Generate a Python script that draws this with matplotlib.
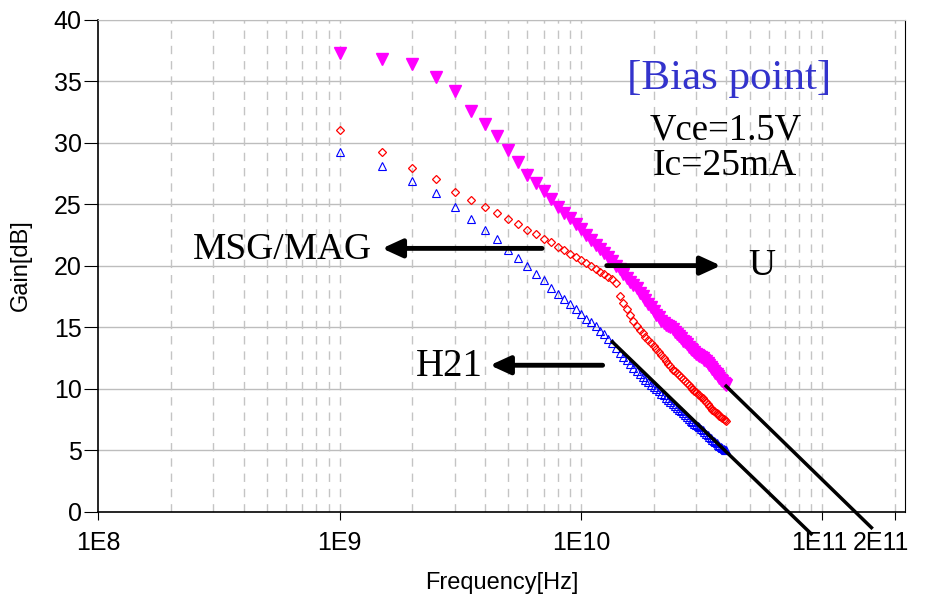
import matplotlib
matplotlib.use("Agg")
import matplotlib.pyplot as plt
import matplotlib.transforms as mtransforms
import numpy as np

# frequency points in GHz (0.5 GHz step, 1 .. 40 GHz)
freq_ghz = [1.0, 1.5, 2.0, 2.5, 3.0, 3.5, 4.0, 4.5, 5.0, 5.5, 6.0, 6.5, 7.0, 7.5,
            8.0, 8.5, 9.0, 9.5, 10.0, 10.5, 11.0, 11.5, 12.0, 12.5, 13.0, 13.5,
            14.0, 14.5, 15.0, 15.5, 16.0, 16.5, 17.0, 17.5, 18.0, 18.5, 19.0,
            19.5, 20.0, 20.5, 21.0, 21.5, 22.0, 22.5, 23.0, 23.5, 24.0, 24.5,
            25.0, 25.5, 26.0, 26.5, 27.0, 27.5, 28.0, 28.5, 29.0, 29.5, 30.0,
            30.5, 31.0, 31.5, 32.0, 32.5, 33.0, 33.5, 34.0, 34.5, 35.0, 35.5,
            36.0, 36.5, 37.0, 37.5, 38.0, 38.5, 39.0, 39.5, 40.0]

gain_u = [37.3, 36.8, 36.4, 35.3, 34.2, 32.6, 31.5, 30.5, 29.4, 28.4, 27.4, 26.7,
          26.1, 25.4, 24.8, 24.3, 23.9, 23.4, 22.95, 22.5, 22.1, 21.7, 21.35,
          21.0, 20.7, 20.4, 20.0, 19.7, 19.3, 19.0, 18.7, 18.45, 18.2, 17.8,
          17.5, 17.2, 16.9, 16.6, 16.3, 16.0, 15.8, 15.5, 15.3, 15.2, 15.1,
          15.0, 14.85, 14.6, 14.4, 14.25, 14.1, 13.9, 13.8, 13.6, 13.4, 13.25,
          13.1, 13.0, 12.85, 12.75, 12.65, 12.55, 12.45, 12.35, 12.25, 12.1,
          11.9, 11.75, 11.6, 11.4, 11.3, 11.2, 11.0, 10.85, 10.7, 10.6, 10.45,
          10.4, 10.3]

gain_msg = [31.0, 29.2, 27.9, 27.0, 26.0, 25.35, 24.8, 24.3, 23.8, 23.4, 22.9,
            22.6, 22.2, 21.9, 21.5, 21.3, 20.95, 20.7, 20.45, 20.2, 20.0, 19.7,
            19.5, 19.3, 19.1, 18.9, 18.6, 17.5, 17.0, 16.5, 16.0, 15.5, 15.1,
            14.8, 14.5, 14.2, 13.95, 13.7, 13.45, 13.2, 13.0, 12.75, 12.5,
            12.25, 12.0, 11.8, 11.55, 11.4, 11.25, 11.1, 10.95, 10.8, 10.6,
            10.45, 10.3, 10.1, 9.95, 9.8, 9.7, 9.6, 9.5, 9.35, 9.2, 9.05, 8.9,
            8.75, 8.55, 8.45, 8.3, 8.2, 8.1, 8.0, 7.9, 7.8, 7.7, 7.6, 7.5, 7.45,
            7.4]

gain_h21 = [29.2, 28.1, 26.9, 25.9, 24.8, 23.8, 22.9, 22.2, 21.3, 20.6, 20.0,
            19.3, 18.8, 18.2, 17.7, 17.25, 16.9, 16.5, 16.1, 15.7, 15.4, 15.05,
            14.7, 14.4, 14.05, 13.7, 13.3, 12.9, 12.6, 12.3, 12.0, 11.7, 11.45,
            11.2, 10.95, 10.7, 10.5, 10.3, 10.1, 9.95, 9.8, 9.6, 9.45, 9.25,
            9.05, 8.9, 8.75, 8.6, 8.45, 8.3, 8.15, 8.0, 7.85, 7.7, 7.55, 7.4,
            7.3, 7.15, 7.05, 6.95, 6.85, 6.7, 6.6, 6.45, 6.35, 6.2, 6.1, 6.0,
            5.85, 5.75, 5.65, 5.55, 5.45, 5.35, 5.25, 5.15, 5.1, 5.05, 5.0]

# extrapolation lines (start / end points)
fit_u_f = [4.0e10, 1.6e11]
fit_u_g = [10.2, -1.3]
fit_h21_f = [1.35e10, 9.0e10]
fit_h21_g = [13.8, -1.8]

freq = np.array(freq_ghz) * 1e9

serif = ["Liberation Serif", "DejaVu Serif"]
sans = ["Liberation Sans", "DejaVu Sans"]

fig = plt.figure(figsize=(9.28, 6.12), dpi=100)
ax = fig.add_axes([0.106, 0.164, 0.869, 0.804])

ax.set_xscale("log")
ax.set_xlim(1e8, 2.2e11)
ax.set_ylim(0, 40)

# grid: solid horizontal, dashed vertical at every decade step
ax.set_yticks(np.arange(0, 41, 5))
for y in range(5, 41, 5):
    ax.axhline(y, color="#bdbdbd", lw=1.0, zorder=0)
for dec in [1e8, 1e9, 1e10, 1e11]:
    for m in range(1, 10):
        xv = dec * m
        if 1e8 < xv < 2.2e11:
            ax.axvline(xv, color="#c4c4c4", lw=1.0, ls=(0, (6, 5)), zorder=0)

ax.plot(freq, gain_u, ls="none", marker="v", ms=8, color="#ff00ff",
        mec="#ff00ff", zorder=3)
ax.plot(freq, gain_msg, ls="none", marker="D", ms=4.5, mfc="none",
        mec="#ff0000", mew=0.9, zorder=3)
ax.plot(freq, gain_h21, ls="none", marker="^", ms=5.5, mfc="none",
        mec="#0000ff", mew=0.8, zorder=3)

ax.plot(fit_u_f, fit_u_g, color="black", lw=2.5, clip_on=False, zorder=4)
ax.plot(fit_h21_f, fit_h21_g, color="black", lw=2.5, clip_on=False, zorder=4)

arrow = dict(arrowstyle="-|>,head_length=1.2,head_width=0.55", color="black",
             lw=3.5, shrinkA=0, shrinkB=0)
ax.annotate("", xy=(1.5e9, 21.4), xytext=(6.9e9, 21.4), arrowprops=arrow)
ax.annotate("", xy=(3.8e10, 20.0), xytext=(1.28e10, 20.0), arrowprops=arrow)
ax.annotate("", xy=(4.2e9, 11.9), xytext=(1.23e10, 11.9), arrowprops=arrow)

ax.text(5.8e8, 21.3, "MSG/MAG", family=serif, fontsize=27, ha="center", va="center")
ax.text(5.6e10, 20.0, "U", family=serif, fontsize=27, ha="center", va="center")
ax.text(2.85e9, 11.8, "H21", family=serif, fontsize=28, ha="center", va="center")
ax.text(4.1e10, 35.2, "[Bias point]", family=serif, fontsize=31,
        color="#3333cc", ha="center", va="center")
ax.text(4.0e10, 31.0, "Vce=1.5V", family=serif, fontsize=26.5, ha="center", va="center")
ax.text(3.95e10, 28.1, "Ic=25mA", family=serif, fontsize=27, ha="center", va="center")

ax.set_xticks([1e8, 1e9, 1e10, 1e11, 2e11])
ax.set_xticklabels(["1E8", "1E9", "1E10", "1E11", "2E11"])
ax.xaxis.set_minor_locator(matplotlib.ticker.NullLocator())
ax.tick_params(axis="x", direction="out", length=6, width=0.8, pad=8, labelsize=18)
ax.tick_params(axis="y", direction="out", length=10, width=0.8, pad=2, labelsize=18)
for lab in ax.get_xticklabels() + ax.get_yticklabels():
    lab.set_family(sans)
# the last two labels sit slightly left of their ticks in the original
xlabs = ax.get_xticklabels()
xlabs[3].set_transform(xlabs[3].get_transform() +
                       mtransforms.ScaledTranslation(-0.03, 0, fig.dpi_scale_trans))
xlabs[4].set_transform(xlabs[4].get_transform() +
                       mtransforms.ScaledTranslation(-0.14, 0, fig.dpi_scale_trans))

ax.set_xlabel("Frequency[Hz]", family=sans, fontsize=17, labelpad=12)
ax.set_ylabel("Gain[dB]", family=sans, fontsize=17, labelpad=16)

for side in ["left", "bottom"]:
    ax.spines[side].set_linewidth(1.2)
ax.spines["top"].set_color("#bdbdbd")
ax.spines["right"].set_linewidth(0.8)

plt.savefig("out.png", dpi=100)
